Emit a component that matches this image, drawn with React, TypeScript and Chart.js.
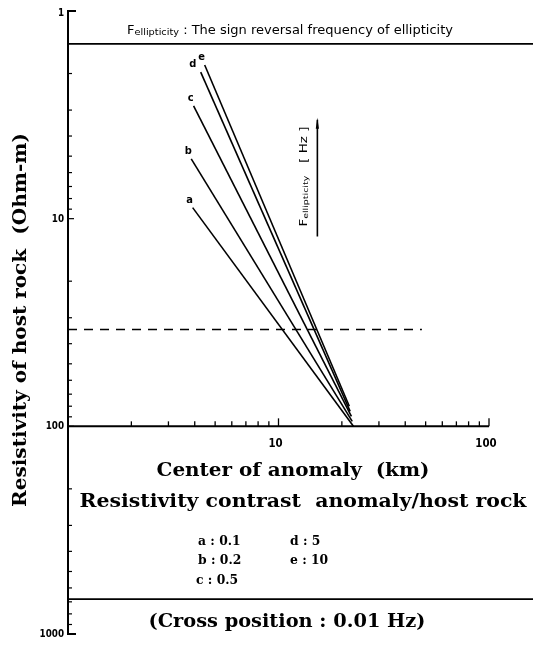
import React, { useEffect, useRef } from 'react';
import { Chart, registerables } from 'chart.js';

Chart.register(...registerables);

// ---- data ----
const seriesLabels = ['a', 'b', 'c', 'd', 'e'];
const contrastValues = ['0.1', '0.2', '0.5', '5', '10'];
const startCenterKm = [3.91, 3.85, 3.95, 4.27, 4.46];
const endCenterKm = [22.7, 22.4, 22.2, 21.9, 21.7];
const startResistivity = [8.85, 5.15, 2.86, 1.97, 1.82];
const endResistivity = [100, 94.6, 89.5, 84.7, 80];

const crossResistivity = 34.2;
const crossLineKm = [1, 48];
const fBarKm = 15.3;
const fBarResistivity = [3.34, 12.2];
const headerRuleResistivity = 1.44;
const footerRuleResistivity = 680;
const xAxisAtResistivity = 100;
const yTickValues = [1, 10, 100, 1000];
const yTickLabels = ['1', '10', '100', '1000'];
const xTickValues = [10, 100];
const xTickLabels = ['10', '100'];

const SERIF = '"DejaVu Serif", serif';
const SANS = '"DejaVu Sans", sans-serif';

function fitText(ctx: CanvasRenderingContext2D, text: string, cx: number, cy: number, width: number, font: string, rotate = 0) {
  ctx.save();
  ctx.font = font;
  ctx.textAlign = 'center';
  ctx.textBaseline = 'middle';
  ctx.translate(cx, cy);
  if (rotate) ctx.rotate(rotate);
  const w = ctx.measureText(text).width;
  ctx.scale(width / w, 1);
  ctx.fillText(text, 0, 0);
  ctx.restore();
}

function scaledText(ctx: CanvasRenderingContext2D, text: string, x: number, y: number, font: string, sx: number, align: CanvasTextAlign) {
  ctx.save();
  ctx.font = font;
  ctx.textAlign = align;
  ctx.textBaseline = 'middle';
  ctx.translate(x, y);
  ctx.scale(sx, 1);
  ctx.fillText(text, 0, 0);
  ctx.restore();
}

// text with a subscript part: [F][ellipticity][rest], fitted to width, left anchored at x0
function subText(ctx: CanvasRenderingContext2D, x0: number, y: number, width: number, size: number, rest: string, rotate = 0) {
  const big = `${size}px ${SANS}`;
  const small = `${Math.round(size * 0.72)}px ${SANS}`;
  ctx.save();
  ctx.font = big;
  const w1 = ctx.measureText('F').width;
  const w3 = ctx.measureText(rest).width;
  ctx.font = small;
  const w2 = ctx.measureText('ellipticity').width;
  const total = w1 + w2 + w3;
  ctx.translate(x0, y);
  if (rotate) ctx.rotate(rotate);
  ctx.scale(width / total, 1);
  ctx.textAlign = 'left';
  ctx.textBaseline = 'alphabetic';
  const base = size * 0.36;
  ctx.font = big;
  ctx.fillText('F', 0, base);
  ctx.font = small;
  ctx.fillText('ellipticity', w1, base + size * 0.12);
  ctx.font = big;
  ctx.fillText(rest, w1 + w2, base);
  ctx.restore();
}

const figurePlugin = {
  id: 'figureDecor',
  afterDraw(chart: any) {
    const { ctx, chartArea, scales } = chart;
    const xs = scales.x;
    const ys = scales.y;
    const L = chartArea.left;
    const R = chartArea.right;
    const T = chartArea.top;
    const B = chartArea.bottom;
    const W = chart.width;
    const seg = (x1: number, y1: number, x2: number, y2: number) => {
      ctx.beginPath();
      ctx.moveTo(x1, y1);
      ctx.lineTo(x2, y2);
      ctx.stroke();
    };
    ctx.save();
    ctx.strokeStyle = '#000';
    ctx.fillStyle = '#000';
    ctx.lineCap = 'butt';

    // y axis
    ctx.lineWidth = 2;
    seg(L, T, L, B);
    seg(L - 1, T, L + 8, T);
    seg(L - 1, B, L + 8, B);
    ctx.lineWidth = 1.2;
    [1, 10, 100].forEach((d) => {
      for (let m = 2; m <= 9; m++) {
        const py = ys.getPixelForValue(d * m);
        seg(L, py, L + 4, py);
      }
    });
    [10, 100].forEach((v) => {
      const py = ys.getPixelForValue(v);
      seg(L, py, L + 6, py);
    });

    // x axis drawn at resistivity 100
    const ax = ys.getPixelForValue(xAxisAtResistivity);
    ctx.lineWidth = 2;
    seg(L, ax, R, ax);
    ctx.lineWidth = 1.3;
    [1, 10].forEach((d) => {
      for (let m = 2; m <= 9; m++) {
        const px = xs.getPixelForValue(d * m);
        seg(px, ax, px, ax - 5);
      }
    });
    xTickValues.forEach((v) => {
      const px = xs.getPixelForValue(v);
      seg(px, ax, px, ax - 8);
    });

    // horizontal rules
    ctx.lineWidth = 1.8;
    [headerRuleResistivity, footerRuleResistivity].forEach((v) => {
      const py = ys.getPixelForValue(v);
      seg(L, py, W, py);
    });

    // tick labels
    yTickValues.forEach((v, i) => {
      const py = ys.getPixelForValue(v);
      scaledText(ctx, yTickLabels[i], L - 4, py + (i === 0 ? 2 : 0), `bold 11px ${SANS}`, 0.8, 'right');
    });
    xTickValues.forEach((v, i) => {
      const px = xs.getPixelForValue(v);
      scaledText(ctx, xTickLabels[i], px - 3, ax + 18, `bold 12px ${SANS}`, 0.85, 'center');
    });

    // series letters near line starts
    seriesLabels.forEach((s, i) => {
      const px = xs.getPixelForValue(startCenterKm[i]);
      const py = ys.getPixelForValue(startResistivity[i]);
      const dx = s === 'd' ? -8 : -3;
      scaledText(ctx, s, px + dx, py - 8, `bold 11px ${SANS}`, 0.9, 'center');
    });

    // frequency bar arrow head and label
    const bx = xs.getPixelForValue(fBarKm);
    const btop = ys.getPixelForValue(fBarResistivity[0]);
    const bbot = ys.getPixelForValue(fBarResistivity[1]);
    ctx.beginPath();
    ctx.moveTo(bx, btop - 2);
    ctx.lineTo(bx - 1.6, btop + 9);
    ctx.lineTo(bx + 1.6, btop + 9);
    ctx.closePath();
    ctx.fill();
    subText(ctx, bx - 14, bbot - 10, 100, 10, '   [ Hz ]', -Math.PI / 2);

    // header
    const hy = (T + ys.getPixelForValue(headerRuleResistivity)) / 2 + 2;
    subText(ctx, 127, hy, 326, 12, ' : The sign reversal frequency of ellipticity');

    // titles
    fitText(ctx, 'Resistivity of host rock  (Ohm-m)', 21, 320, 374, `bold 18px ${SERIF}`, -Math.PI / 2);
    fitText(ctx, 'Center of anomaly  (km)', 293, 471, 273, `bold 18px ${SERIF}`);
    fitText(ctx, 'Resistivity contrast  anomaly/host rock', 303, 502, 447, `bold 18px ${SERIF}`);
    fitText(ctx, '(Cross position : 0.01 Hz)', 287, 622, 277, `bold 18px ${SERIF}`);

    // contrast legend
    const legendPos = [
      [198, 542], [198, 561], [196, 581], [290, 542], [290, 561],
    ];
    seriesLabels.forEach((s, i) => {
      scaledText(ctx, `${s} : ${contrastValues[i]}`, legendPos[i][0], legendPos[i][1], `bold 13px ${SERIF}`, 0.95, 'left');
    });

    ctx.restore();
  },
};

export default function App() {
  const ref = useRef<HTMLCanvasElement>(null);
  useEffect(() => {
    document.body.style.margin = '0';
    const canvas = ref.current;
    if (!canvas) return;
    const lineSets = seriesLabels.map((s, i) => ({
      label: s,
      data: [
        { x: startCenterKm[i], y: startResistivity[i] },
        { x: endCenterKm[i], y: endResistivity[i] },
      ],
      showLine: true,
      borderColor: '#000',
      borderWidth: 1.6,
      pointRadius: 0,
    }));
    const chart = new Chart(canvas, {
      type: 'scatter',
      data: {
        datasets: [
          ...lineSets,
          {
            label: 'cross',
            data: crossLineKm.map((x) => ({ x, y: crossResistivity })),
            showLine: true,
            borderColor: '#000',
            borderWidth: 1.6,
            borderDash: [9, 7],
            pointRadius: 0,
          },
          {
            label: 'fbar',
            data: fBarResistivity.map((y) => ({ x: fBarKm, y })),
            showLine: true,
            borderColor: '#000',
            borderWidth: 1.6,
            pointRadius: 0,
          },
        ],
      },
      options: {
        responsive: false,
        maintainAspectRatio: false,
        devicePixelRatio: 1,
        animation: false,
        layout: { padding: { left: 68, top: 11, right: 44, bottom: 12 } },
        plugins: { legend: { display: false }, tooltip: { enabled: false } },
        scales: {
          x: { type: 'logarithmic', min: 1, max: 100, display: false },
          y: { type: 'logarithmic', min: 1, max: 1000, reverse: true, display: false },
        },
      },
      plugins: [figurePlugin],
    });
    return () => chart.destroy();
  }, []);
  return <canvas ref={ref} width={533} height={646} style={{ display: 'block', width: 533, height: 646 }} />;
}
